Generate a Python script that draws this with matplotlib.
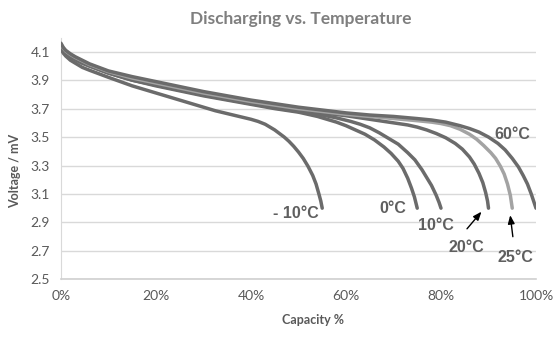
import matplotlib
matplotlib.use("Agg")
import matplotlib.pyplot as plt
from matplotlib.ticker import FuncFormatter

# Data (capacity %, voltage)
cap_m10 = [0, 0.5, 1, 2, 3, 4.5, 6, 8, 10, 12.5, 15, 17.5, 20, 22.5, 25, 27.5, 30, 32.5, 35, 37.5,
           40, 41.5, 43, 44, 45, 46, 47, 48, 49, 50, 51, 52, 53, 53.7, 54.3, 54.7, 55]
v_m10 = [4.12, 4.09, 4.07, 4.04, 4.02, 3.99, 3.97, 3.945, 3.92, 3.89, 3.86, 3.835, 3.81, 3.785, 3.76, 3.735,
         3.71, 3.685, 3.665, 3.645, 3.625, 3.61, 3.59, 3.57, 3.55, 3.525, 3.50, 3.47, 3.435, 3.395, 3.35,
         3.295, 3.23, 3.17, 3.10, 3.05, 3.0]

cap_0 = [0, 0.5, 1, 2, 3, 4.5, 6, 8, 10, 15, 20, 25, 30, 35, 40, 45, 50, 52, 54, 56, 58, 60, 62, 64,
         66, 68, 69.5, 71, 72, 73, 73.8, 74.4, 75]
v_0 = [4.14, 4.11, 4.09, 4.065, 4.045, 4.02, 4.0, 3.975, 3.95, 3.90, 3.86, 3.825, 3.79, 3.76, 3.73,
       3.70, 3.675, 3.66, 3.645, 3.625, 3.605, 3.58, 3.55, 3.52, 3.48, 3.43, 3.385, 3.33, 3.28, 3.21,
       3.14, 3.08, 3.0]

cap_10 = [0, 0.5, 1, 2, 3, 4.5, 6, 8, 10, 15, 20, 25, 30, 35, 40, 45, 50, 55, 58, 61, 63, 65, 67, 69,
          71, 73, 74.5, 76, 77, 78, 79, 79.6, 80]
v_10 = [4.14, 4.11, 4.09, 4.065, 4.045, 4.02, 4.0, 3.975, 3.95, 3.90, 3.865, 3.83, 3.795, 3.765, 3.735,
        3.705, 3.68, 3.655, 3.635, 3.61, 3.59, 3.565, 3.53, 3.49, 3.45, 3.39, 3.34, 3.27, 3.215, 3.16,
        3.09, 3.04, 3.0]

cap_20 = [0, 0.5, 1, 2, 3, 4.5, 6, 8, 10, 15, 20, 25, 30, 35, 40, 45, 50, 55, 60, 65, 70, 73, 75, 77,
          79, 81, 83, 84.5, 86, 87, 88, 88.8, 89.4, 89.8, 90]
v_20 = [4.15, 4.12, 4.10, 4.075, 4.055, 4.03, 4.005, 3.98, 3.955, 3.91, 3.87, 3.835, 3.80, 3.77, 3.74,
        3.715, 3.69, 3.67, 3.65, 3.625, 3.60, 3.585, 3.57, 3.55, 3.525, 3.495, 3.455, 3.415, 3.36, 3.31,
        3.245, 3.18, 3.11, 3.05, 3.0]

cap_25 = [0, 0.5, 1, 2, 3, 4.5, 6, 8, 10, 15, 20, 25, 30, 35, 40, 45, 50, 55, 60, 65, 70, 75, 78, 80,
          82, 84, 86, 87.5, 89, 90.5, 91.5, 92.5, 93.3, 94, 94.6, 95]
v_25 = [4.15, 4.125, 4.105, 4.08, 4.06, 4.035, 4.01, 3.985, 3.96, 3.915, 3.88, 3.845, 3.81, 3.78, 3.75,
        3.725, 3.70, 3.68, 3.66, 3.645, 3.63, 3.615, 3.605, 3.595, 3.58, 3.555, 3.52, 3.485, 3.44, 3.39,
        3.35, 3.295, 3.24, 3.17, 3.09, 3.0]

cap_60 = [0, 0.5, 1, 2, 3, 4.5, 6, 8, 10, 15, 20, 25, 30, 35, 40, 45, 50, 55, 60, 65, 70, 75, 78, 81,
          84, 86, 88, 90, 92, 93.5, 95, 96.3, 97.3, 98.2, 99, 99.6, 100]
v_60 = [4.16, 4.13, 4.11, 4.085, 4.065, 4.04, 4.015, 3.99, 3.965, 3.925, 3.89, 3.855, 3.82, 3.79, 3.76,
        3.735, 3.71, 3.69, 3.67, 3.655, 3.645, 3.63, 3.62, 3.605, 3.58, 3.56, 3.535, 3.50, 3.455, 3.41,
        3.35, 3.29, 3.23, 3.17, 3.10, 3.04, 3.0]

y_ticks = [2.5, 2.7, 2.9, 3.1, 3.3, 3.5, 3.7, 3.9, 4.1]
x_ticks = [0, 20, 40, 60, 80, 100]

dark = "#6b6b6b"
light = "#a3a3a3"
txt = "#595959"

fig = plt.figure(figsize=(5.54, 3.41), dpi=100)
ax = fig.add_axes([0.110, 0.181, 0.8575, 0.709])

series = [
    (cap_m10, v_m10, dark),
    (cap_0, v_0, dark),
    (cap_10, v_10, dark),
    (cap_20, v_20, dark),
    (cap_25, v_25, light),
    (cap_60, v_60, dark),
]
for cx, vy, c in series:
    ax.plot(cx, vy, color=c, lw=2.5, solid_capstyle="round", solid_joinstyle="round", zorder=3)

ax.set_xlim(0, 100)
ax.set_ylim(2.5, 4.2)
ax.set_yticks(y_ticks)
ax.set_xticks(x_ticks)
ax.xaxis.set_major_formatter(FuncFormatter(lambda v, p: f"{int(v)}%"))
ax.yaxis.set_major_formatter(FuncFormatter(lambda v, p: f"{v:.1f}"))
ax.grid(axis="y", color="#d9d9d9", lw=1.0)
ax.set_axisbelow(True)
for s in ["top", "right"]:
    ax.spines[s].set_visible(False)
ax.spines["left"].set_color("#d9d9d9")
ax.spines["bottom"].set_color("#d0d0d0")
ax.spines["bottom"].set_linewidth(1.2)
ax.tick_params(length=0, labelsize=10, labelcolor=txt, pad=8)
for lab in ax.get_xticklabels() + ax.get_yticklabels():
    lab.set_family("Lato")

fig.text(0.542, 0.945, "Discharging vs. Temperature", ha="center", va="center",
         fontsize=12.5, color="#7f7f7f", family="Lato", fontweight="bold")
fig.text(0.027, 0.50, "Voltage / mV", rotation=90, ha="center", va="center",
         fontsize=9, color=txt, family="Lato", fontweight="bold")
fig.text(0.565, 0.062, "Capacity %", ha="center", va="center",
         fontsize=9, color=txt, family="Lato", fontweight="bold")

lab_kw = dict(fontsize=11.5, color="#5f5f5f", family="Liberation Sans",
              fontweight="bold", ha="center", va="center", zorder=4)
ax.text(49.5, 2.96, "- 10°C", **lab_kw)
ax.text(69.9, 3.00, "0°C", **lab_kw)
ax.text(78.9, 2.88, "10°C", **lab_kw)
ax.text(85.3, 2.72, "20°C", **lab_kw)
ax.text(95.6, 2.65, "25°C", **lab_kw)
ax.text(95.0, 3.52, "60°C", **lab_kw)

arrow_kw = dict(arrowstyle="-|>,head_length=0.5,head_width=0.2", color="black", lw=1.0)
ax.annotate("", xy=(88.9, 2.99), xytext=(85.1, 2.84), arrowprops=arrow_kw)
ax.annotate("", xy=(94.5, 2.97), xytext=(95.2, 2.78), arrowprops=arrow_kw)

fig.savefig("out.png", dpi=100, facecolor="white")
